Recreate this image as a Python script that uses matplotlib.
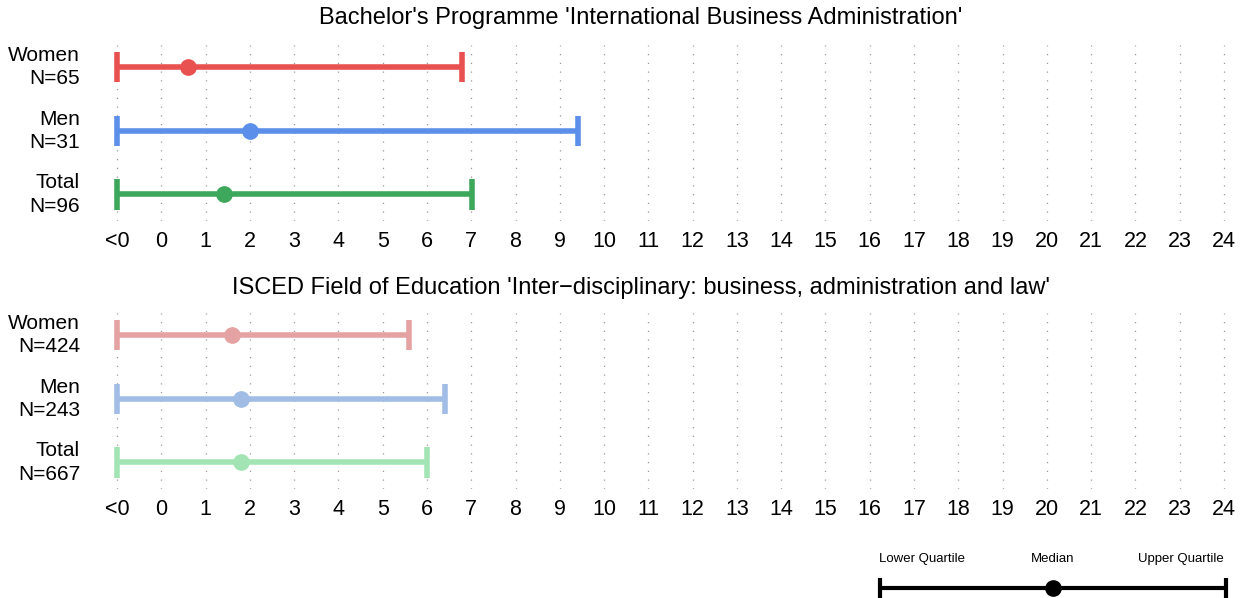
import matplotlib
matplotlib.use("Agg")
import matplotlib.pyplot as plt

plt.rcParams['font.family'] = ['Liberation Sans', 'DejaVu Sans']

W, H = 1248, 598

# ---- data ----
tick_values = list(range(-1, 25))
tick_labels = ['<0'] + [str(i) for i in range(0, 25)]

panel_titles = ["Bachelor's Programme 'International Business Administration'",
                "ISCED Field of Education 'Inter\u2212disciplinary: business, administration and law'"]

groups = ['Women', 'Men', 'Total']
n_top = [65, 31, 96]
n_bottom = [424, 243, 667]

lower_top = [-1, -1, -1]
median_top = [0.6, 2.0, 1.42]
upper_top = [6.8, 9.4, 7.02]

lower_bottom = [-1, -1, -1]
median_bottom = [1.6, 1.8, 1.8]
upper_bottom = [5.6, 6.4, 6.0]

colors_top = ['#E8514F', '#5B8FEA', '#3DA75B']
colors_bottom = ['#E5A2A2', '#A1BDE6', '#A3E4B4']


def px_axes(left, top, right, bottom):
    return fig.add_axes([left / W, 1 - bottom / H, (right - left) / W, (bottom - top) / H])


fig = plt.figure(figsize=(W / 100, H / 100), dpi=100)

unit = (1224 - 117) / 25.0
x0 = -1.4
x1 = 24.4
ax_left = 117 - 0.4 * unit
ax_right = 1224 + 0.4 * unit

ax_top = px_axes(ax_left, 45, ax_right, 221)
ax_bot = px_axes(ax_left, 313, ax_right, 489)

for ax, lo, me, up, ns, cols in ((ax_top, lower_top, median_top, upper_top, n_top, colors_top),
                                 (ax_bot, lower_bottom, median_bottom, upper_bottom, n_bottom, colors_bottom)):
    ax.set_xlim(x0, x1)
    ax.set_ylim(2.42, -0.35)
    for v in tick_values:
        ax.axvline(v, color='#999999', lw=0.9, ls=(0, (1, 6)), zorder=0)
    for i in range(len(groups)):
        ax.plot([lo[i], up[i]], [i, i], color=cols[i], lw=4, solid_capstyle='butt', zorder=2)
        for xv in (lo[i], up[i]):
            ax.plot([xv, xv], [i - 0.24, i + 0.24], color=cols[i], lw=4, solid_capstyle='butt', zorder=2)
        ax.plot(me[i], i, 'o', color=cols[i], ms=11, zorder=3)
    ax.set_xticks(tick_values)
    ax.set_xticklabels(tick_labels, fontsize=15.5)
    ax.tick_params(axis='x', length=0, pad=7)
    ax.set_yticks([])
    for s in ax.spines.values():
        s.set_visible(False)
    for i, g in enumerate(groups):
        ax.annotate(f"{g}\nN={ns[i]}", xy=(80 / W, 0), xycoords=('figure fraction', 'data'),
                    xytext=(0, i), textcoords=('offset points', 'data'),
                    ha='right', va='center', fontsize=15, linespacing=1.3)

fig.text(641 / W, 1 - 18 / H, panel_titles[0], ha='center', va='center', fontsize=17)
fig.text(641 / W, 1 - 288 / H, panel_titles[1], ha='center', va='center', fontsize=17)

# legend
lg = px_axes(860, 540, 1248, 598)
lg.set_xlim(860, 1248)
lg.set_ylim(598, 540)
lg.axis('off')
lg.plot([880, 1226], [588, 588], color='black', lw=3, solid_capstyle='butt')
lg.plot([880, 880], [578, 600], color='black', lw=3, solid_capstyle='butt')
lg.plot([1226, 1226], [578, 600], color='black', lw=3, solid_capstyle='butt')
lg.plot([1053], [588], 'o', color='black', ms=11)
lg.text(922, 559, 'Lower Quartile', ha='center', va='center', fontsize=9.5)
lg.text(1053, 559, 'Median', ha='center', va='center', fontsize=9.5)
lg.text(1181, 559, 'Upper Quartile', ha='center', va='center', fontsize=9.5)

fig.savefig('out.png', dpi=100)
